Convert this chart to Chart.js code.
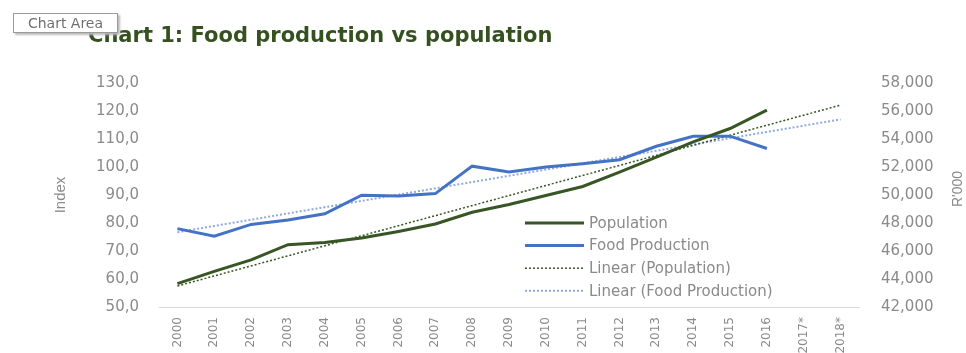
<!DOCTYPE html>
<html>
<head>
<meta charset="utf-8">
<script src="https://cdn.jsdelivr.net/npm/chart.js@4.4.1/dist/chart.umd.min.js"></script>
<style>
  html, body { margin: 0; padding: 0; background: #fff; }
  #wrap { position: relative; width: 966px; height: 353px; }
  #tip {
    position: absolute; left: 13px; top: 13px; width: 103px; height: 18px;
    border: 1px solid #9a9a9a; background: #fff; box-shadow: 2px 2px 2px #bbb;
    font: 14px "DejaVu Sans", sans-serif; color: #707070; line-height: 18px; text-align: center;
  }
</style>
</head>
<body>
<div id="wrap">
  <canvas id="chart" width="966" height="353"></canvas>
  <div id="tip">Chart Area</div>
</div>
<script>
var years = ["2000", "2001", "2002", "2003", "2004", "2005", "2006", "2007", "2008", "2009",
  "2010", "2011", "2012", "2013", "2014", "2015", "2016", "2017*", "2018*"];

// index, left axis
var foodProduction = [78.0, 75.3, 79.5, 81.1, 83.3, 89.9, 89.6, 90.5, 100.3, 98.2,
  100.0, 101.2, 102.6, 107.4, 111.0, 111.0, 106.6, null, null];

// R'000, right axis
var population = [43670, 44540, 45370, 46450, 46610, 46930, 47400, 47930, 48770, 49320,
  49960, 50610, 51640, 52710, 53790, 54750, 56060, null, null];

// trendline end points
var popTrend = [43500, null, null, null, null, null, null, null, null, null,
  null, null, null, null, null, null, null, null, 56420];
var foodTrend = [76.7, null, null, null, null, null, null, null, null, null,
  null, null, null, null, null, null, null, null, 117.0];

var leftTicks = { min: 50, max: 130, step: 10 };
var rightTicks = { min: 42000, max: 58000, step: 2000 };

var grey = "#8a8a8a";

var overlay = {
  id: "overlay",
  afterDraw: function (chart) {
    var ctx = chart.ctx;
    ctx.save();
    // title
    ctx.fillStyle = "#34511f";
    ctx.font = "bold 21px 'DejaVu Sans'";
    ctx.textBaseline = "alphabetic";
    ctx.textAlign = "left";
    ctx.fillText("Chart 1: Food production vs population", 88, 42);

    // legend inside the plot
    ctx.font = "15px 'DejaVu Sans'";
    ctx.textBaseline = "middle";
    chart.data.datasets.forEach(function (ds, i) {
      var y = 223 + i * 22.6;
      ctx.strokeStyle = ds.borderColor;
      ctx.lineWidth = ds.borderWidth;
      ctx.setLineDash(ds.borderDash || []);
      ctx.beginPath();
      ctx.moveTo(525, y);
      ctx.lineTo(584, y);
      ctx.stroke();
      ctx.fillStyle = grey;
      ctx.fillText(ds.label, 589, y + 1);
    });

    // right axis title, reads bottom to top
    ctx.setLineDash([]);
    ctx.translate(958, 189);
    ctx.rotate(-Math.PI / 2);
    ctx.textAlign = "center";
    ctx.font = "14px 'Liberation Sans'";
    ctx.fillStyle = grey;
    ctx.fillText("R'000", 0, 0);
    ctx.restore();
  }
};

new Chart(document.getElementById("chart"), {
  type: "line",
  data: {
    labels: years,
    datasets: [
      {
        label: "Population",
        data: population,
        yAxisID: "yR",
        borderColor: "#375623",
        borderWidth: 3,
      },
      {
        label: "Food Production",
        data: foodProduction,
        yAxisID: "y",
        borderColor: "#4472c4",
        borderWidth: 3,
      },
      {
        label: "Linear (Population)",
        data: popTrend,
        yAxisID: "yR",
        borderColor: "#375623",
        borderWidth: 1.5,
        borderDash: [2, 2],
        spanGaps: true,
      },
      {
        label: "Linear (Food Production)",
        data: foodTrend,
        yAxisID: "y",
        borderColor: "#8faadc",
        borderWidth: 2,
        borderDash: [2, 2],
        spanGaps: true,
      },
    ],
  },
  options: {
    responsive: false,
    animation: false,
    layout: { padding: { top: 83, left: 0, right: 0, bottom: 0 } },
    elements: { point: { radius: 0 }, line: { tension: 0 } },
    plugins: {
      legend: { display: false },
      title: { display: false },
      tooltip: { enabled: false },
    },
    scales: {
      x: {
        offset: true,
        grid: { display: false, drawTicks: false },
        border: { display: true, color: "#d9d9d9", width: 1 },
        ticks: {
          autoSkip: false, minRotation: 90, maxRotation: 90, padding: 10,
          color: grey, font: { family: "DejaVu Sans", size: 12 },
        },
        afterFit: function (s) { s.height = 46; },
      },
      y: {
        position: "left",
        min: leftTicks.min, max: leftTicks.max,
        grid: { display: false, drawTicks: false },
        border: { display: false },
        ticks: {
          stepSize: leftTicks.step, padding: 20, color: grey,
          font: { family: "DejaVu Sans", size: 15 },
          callback: function (v) { return v.toFixed(1).replace(".", ","); },
        },
        title: {
          display: true, text: "Index", color: grey,
          font: { family: "Liberation Sans", size: 15 },
          padding: { top: 52, bottom: 0 },
        },
        afterFit: function (s) { s.width = 159; },
      },
      yR: {
        position: "right",
        min: rightTicks.min, max: rightTicks.max,
        grid: { display: false, drawTicks: false },
        border: { display: false },
        ticks: {
          stepSize: rightTicks.step, padding: 22, color: grey,
          font: { family: "DejaVu Sans", size: 15 },
        },
        afterFit: function (s) { s.width = 107; },
      },
    },
  },
  plugins: [overlay],
});
</script>
</body>
</html>
